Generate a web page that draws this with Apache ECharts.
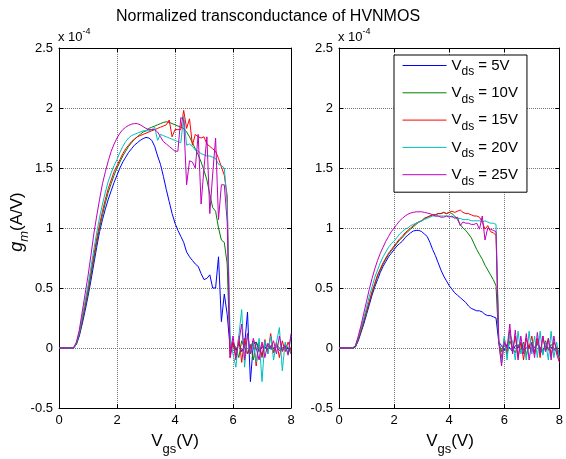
<!DOCTYPE html>
<html>
<head>
<meta charset="utf-8">
<title>Normalized transconductance of HVNMOS</title>
<script src="https://cdn.jsdelivr.net/npm/echarts@6/dist/echarts.min.js"></script>
<style>
  html, body { margin: 0; padding: 0; background: #fff; }
  #chart { width: 566px; height: 459px; }
</style>
</head>
<body>
<div id="chart"></div>
<script>
// gate voltage (V)
var vgs = [0, 0.1, 0.2, 0.3, 0.4, 0.5, 0.6, 0.7, 0.8, 0.9,
    1, 1.1, 1.2, 1.3, 1.4, 1.5, 1.6, 1.7, 1.8, 1.9,
    2, 2.1, 2.2, 2.3, 2.4, 2.5, 2.6, 2.7, 2.8, 2.9,
    3, 3.1, 3.2, 3.3, 3.4, 3.5, 3.6, 3.7, 3.8, 3.9,
    4, 4.1, 4.2, 4.3, 4.4, 4.5, 4.6, 4.7, 4.8, 4.9,
    5, 5.1, 5.2, 5.3, 5.4, 5.5, 5.6, 5.7, 5.8, 5.9,
    6, 6.1, 6.2, 6.3, 6.4, 6.5, 6.6, 6.7, 6.8, 6.9,
    7, 7.1, 7.2, 7.3, 7.4, 7.5, 7.6, 7.7, 7.8, 7.9,
    8];

var vdsNames = ['V_ds = 5V', 'V_ds = 10V', 'V_ds = 15V', 'V_ds = 20V', 'V_ds = 25V'];
var colors = ['#0000ff', '#008000', '#ff0000', '#00bfbf', '#bf00bf'];
var xTicks = [0, 2, 4, 6, 8];
var yTicks = [-0.5, 0, 0.5, 1, 1.5, 2, 2.5];

// gm in units of 1e-4 A/V, left subplot
var gmL5 = [0, 0, 0, 0, 0, 0, 0.03, 0.1, 0.2, 0.31,
    0.43, 0.56, 0.7, 0.84, 0.97, 1.07, 1.16, 1.24, 1.31, 1.38,
    1.44, 1.5, 1.55, 1.59, 1.63, 1.66, 1.69, 1.71, 1.73, 1.745,
    1.755, 1.75, 1.73, 1.68, 1.6, 1.53, 1.43, 1.32, 1.22, 1.12,
    1.04, 0.98, 0.93, 0.88, 0.8, 0.76, 0.73, 0.7, 0.68, 0.62,
    0.57, 0.58, 0.61, 0.5, 0.5, 0.76, 0.22, 0.45, 0.28, 0.0,
    0.02, -0.02, 0.04, -0.03, 0.02, 0.3, -0.28, 0.03, 0.05, -0.03,
    0.01, 0, 0.02, -0.01, 0, 0.01, -0.02, 0, 0.01, 0,
    -0.03];
var gmL10 = [0, 0, 0, 0, 0, 0, 0.03, 0.11, 0.22, 0.34,
    0.46, 0.6, 0.74, 0.88, 1.0, 1.11, 1.21, 1.3, 1.37, 1.44,
    1.5, 1.55, 1.6, 1.64, 1.68, 1.71, 1.74, 1.76, 1.78, 1.8,
    1.81, 1.83, 1.84, 1.85, 1.86, 1.87, 1.88, 1.885, 1.88, 1.87,
    1.86, 1.85, 1.84, 1.83, 1.8, 1.76, 1.71, 1.66, 1.61, 1.55,
    1.48, 1.4, 1.28, 1.17, 1.14, 1.0, 0.9, 0.88, 0.7, -0.05,
    0.05, 0.0, -0.08, 0.06, 0.0, -0.05, 0.03, -0.1, 0.05, 0.0,
    -0.06, 0.04, -0.02, 0.02, -0.04, 0.03, 0.0, -0.02, 0.03, 0.0,
    -0.05];
var gmL15 = [0, 0, 0, 0, 0, 0, 0.04, 0.12, 0.24, 0.36,
    0.49, 0.63, 0.77, 0.91, 1.03, 1.14, 1.24, 1.33, 1.4, 1.47,
    1.52, 1.57, 1.62, 1.66, 1.69, 1.72, 1.74, 1.76, 1.77, 1.78,
    1.79, 1.8, 1.81, 1.82, 1.83, 1.84, 1.85, 1.86, 1.9, 1.76,
    1.82, 1.82, 1.82, 1.98, 1.83, 1.91, 1.69, 1.78, 1.76, 1.75,
    1.76, 1.7, 1.68, 1.66, 1.64, 1.58, 1.51, 1.44, 1.27, -0.08,
    0.05, -0.1, 0.1, -0.12, 0.08, -0.05, 0.0, 0.06, -0.15, 0.05,
    -0.08, 0.07, -0.05, 0.12, -0.04, 0.05, -0.08, 0.06, -0.03, 0.05,
    -0.02];
var gmL20 = [0, 0, 0, 0, 0, 0, 0.04, 0.13, 0.26, 0.39,
    0.52, 0.67, 0.82, 0.96, 1.09, 1.2, 1.3, 1.39, 1.46, 1.52,
    1.57, 1.63, 1.68, 1.72, 1.75, 1.77, 1.78, 1.79, 1.8, 1.81,
    1.81, 1.81, 1.82, 1.84, 1.73, 1.78, 1.77, 1.76, 1.75, 1.74,
    1.73, 1.72, 1.71, 1.93, 1.69, 1.7, 1.68, 1.65, 1.64, 1.62,
    1.61, 1.6, 1.6, 1.59, 1.58, 1.53, 1.52, 1.5, 1.2, 0.1,
    -0.05, -0.16, 0.1, 0.32, -0.16, 0.12, -0.05, 0.05, -0.12, 0.08,
    -0.28, 0.06, -0.05, 0.1, -0.1, 0.05, 0.17, -0.19, 0.05, -0.05,
    0.1];
var gmL25 = [0, 0, 0, 0, 0, 0, 0.05, 0.15, 0.3, 0.45,
    0.6, 0.77, 0.95, 1.1, 1.24, 1.37, 1.47, 1.56, 1.64, 1.7,
    1.75, 1.79, 1.82, 1.84, 1.855, 1.865, 1.87, 1.87, 1.86, 1.845,
    1.83, 1.82, 1.82, 1.82, 1.8, 1.76, 1.72, 1.7, 1.68, 1.66,
    1.64, 1.64, 1.92, 1.9, 1.36, 1.56, 1.55, 1.5, 1.78, 1.2,
    1.5, 1.76, 1.12, 1.45, 1.75, 1.07, 1.36, 1.36, 1.05, -0.08,
    0.1, -0.08, 0.05, 0.2, -0.1, 0.12, -0.05, 0.08, 0.0, -0.1,
    0.05, -0.08, 0.04, 0.0, 0.06, -0.05, 0.1, -0.03, 0.02, -0.06,
    0.12];

// gm in units of 1e-4 A/V, right subplot
var gmR5 = [0, 0, 0, 0, 0, 0, 0.01, 0.06, 0.13, 0.2,
    0.28, 0.36, 0.44, 0.51, 0.57, 0.63, 0.68, 0.72, 0.76, 0.79,
    0.82, 0.85, 0.87, 0.89, 0.92, 0.94, 0.96, 0.975, 0.98, 0.98,
    0.97, 0.95, 0.93, 0.88, 0.82, 0.77, 0.71, 0.65, 0.6, 0.56,
    0.52, 0.49, 0.46, 0.44, 0.42, 0.4, 0.38, 0.35, 0.33, 0.32,
    0.31, 0.31, 0.3, 0.28, 0.27, 0.27, 0.26, 0.25, 0.05, 0.02,
    -0.02, 0.03, 0.0, -0.03, 0.02, 0.0, 0.04, -0.02, 0.0, 0.02,
    -0.03, 0.01, 0.03, 0.0, -0.02, 0.02, 0.0, 0.01, -0.02, 0.0,
    -0.04];
var gmR10 = [0, 0, 0, 0, 0, 0, 0.01, 0.07, 0.14, 0.22,
    0.3, 0.38, 0.46, 0.53, 0.6, 0.65, 0.7, 0.74, 0.78, 0.81,
    0.84, 0.87, 0.9, 0.92, 0.95, 0.97, 0.99, 1.01, 1.03, 1.05,
    1.06, 1.08, 1.09, 1.1, 1.11, 1.11, 1.12, 1.12, 1.13, 1.12,
    1.13, 1.12, 1.1, 1.07, 1.03, 1.0, 0.98, 0.95, 0.92, 0.87,
    0.82, 0.78, 0.74, 0.69, 0.65, 0.61, 0.57, 0.52, 0.05, -0.03,
    0.05, -0.05, 0.06, 0.0, -0.04, 0.03, -0.02, 0.05, -0.06, 0.02,
    0.04, -0.03, 0.05, 0.0, -0.05, 0.06, -0.02, 0.03, 0.0, -0.03,
    -0.08];
var gmR15 = [0, 0, 0, 0, 0, 0, 0.02, 0.08, 0.15, 0.23,
    0.31, 0.39, 0.47, 0.54, 0.61, 0.66, 0.71, 0.75, 0.79, 0.82,
    0.85, 0.88, 0.91, 0.93, 0.96, 0.98, 1.0, 1.02, 1.04, 1.05,
    1.06, 1.08, 1.09, 1.1, 1.11, 1.11, 1.12, 1.12, 1.13, 1.12,
    1.13, 1.14, 1.13, 1.14, 1.15, 1.13, 1.12, 1.12, 1.11, 1.1,
    1.1, 1.09, 1.05, 0.99, 1.02, 0.97, 0.96, 0.94, 0.05, -0.08,
    0.08, -0.05, 0.15, -0.03, 0.1, -0.08, 0.05, -0.1, 0.08, 0.0,
    0.1, -0.05, 0.08, -0.08, 0.1, -0.02, 0.08, -0.06, 0.05, 0.0,
    -0.1];
var gmR20 = [0, 0, 0, 0, 0, 0, 0.02, 0.09, 0.17, 0.25,
    0.34, 0.43, 0.51, 0.59, 0.65, 0.71, 0.76, 0.8, 0.84, 0.87,
    0.89, 0.92, 0.95, 0.97, 0.99, 1.0, 1.02, 1.03, 1.04, 1.05,
    1.06, 1.07, 1.08, 1.09, 1.1, 1.1, 1.1, 1.1, 1.1, 1.1,
    1.1, 1.09, 1.09, 1.08, 1.08, 1.07, 1.07, 1.07, 1.06, 1.06,
    1.06, 1.06, 1.05, 1.06, 1.05, 1.04, 1.04, 1.03, 0.05, -0.13,
    0.1, -0.1, 0.12, 0.05, -0.1, 0.14, -0.05, 0.02, -0.1, 0.14,
    -0.05, 0.1, -0.08, 0.14, -0.06, 0.05, -0.1, 0.14, -0.08, 0.05,
    -0.08];
var gmR25 = [0, 0, 0, 0, 0, 0, 0.02, 0.1, 0.19, 0.29,
    0.39, 0.49, 0.58, 0.66, 0.73, 0.79, 0.84, 0.89, 0.93, 0.97,
    1.0, 1.03, 1.06, 1.08, 1.1, 1.115, 1.125, 1.13, 1.135, 1.135,
    1.135, 1.13, 1.125, 1.12, 1.11, 1.1, 1.1, 1.09, 1.09, 1.1,
    1.09, 1.1, 1.08, 1.09, 1.02, 1.05, 1.04, 1.04, 1.03, 1.03,
    1.04, 0.99, 1.1, 0.9, 1.0, 0.99, 0.98, 0.97, 0.05, -0.15,
    0.05, 0.0, 0.2, -0.05, 0.15, -0.1, 0.1, -0.05, 0.12, -0.1,
    0.05, -0.08, 0.13, -0.05, 0.1, -0.03, 0.08, -0.1, 0.1, -0.05,
    -0.12];

var leftSets = [gmL5, gmL10, gmL15, gmL20, gmL25];
var rightSets = [gmR5, gmR10, gmR15, gmR20, gmR25];

var FONT = "'Liberation Sans', Arial, Helvetica, sans-serif";

function pairs(ys) {
    var out = [];
    for (var i = 0; i < vgs.length; i++) {
        out.push([vgs[i], ys[i]]);
    }
    return out;
}

// small deep merge for the axis option objects
function merge(target) {
    for (var a = 1; a < arguments.length; a++) {
        var src = arguments[a];
        for (var k in src) {
            var v = src[k];
            if (v && typeof v === 'object' && !Array.isArray(v)) {
                target[k] = merge(target[k] && typeof target[k] === 'object' ? target[k] : {}, v);
            } else {
                target[k] = v;
            }
        }
    }
    return target;
}

var gridLine = {show: true, lineStyle: {color: '#777', type: 'dotted', width: 1}};

function xAxes(grid) {
    var base = {
        gridIndex: grid, type: 'value',
        min: xTicks[0], max: xTicks[xTicks.length - 1], interval: xTicks[1] - xTicks[0],
        axisLine: {show: true, onZero: false, lineStyle: {color: '#000', width: 1}},
        axisTick: {show: true, inside: true, length: 4, lineStyle: {color: '#000'}}
    };
    return [
        merge({}, base, {
            position: 'bottom',
            axisLabel: {color: '#000', fontSize: 13, fontFamily: FONT, margin: 6},
            splitLine: gridLine
        }),
        merge({}, base, {position: 'top', axisLabel: {show: false}, splitLine: {show: false}})
    ];
}

function yAxes(grid) {
    var base = {
        gridIndex: grid, type: 'value',
        min: yTicks[0], max: yTicks[yTicks.length - 1], interval: yTicks[1] - yTicks[0],
        axisLine: {show: true, onZero: false, lineStyle: {color: '#000', width: 1}},
        axisTick: {show: true, inside: true, length: 4, lineStyle: {color: '#000'}}
    };
    return [
        merge({}, base, {
            position: 'left',
            axisLabel: {color: '#000', fontSize: 13, fontFamily: FONT, margin: 6},
            splitLine: gridLine
        }),
        merge({}, base, {position: 'right', axisLabel: {show: false}, splitLine: {show: false}})
    ];
}

var series = [];
for (var s = 0; s < vdsNames.length; s++) {
    series.push({
        name: vdsNames[s], type: 'line', xAxisIndex: 0, yAxisIndex: 0,
        data: pairs(leftSets[s]), symbol: 'none', color: colors[s],
        lineStyle: {width: 1, color: colors[s]}
    });
}
for (var s = 0; s < vdsNames.length; s++) {
    series.push({
        name: vdsNames[s], type: 'line', xAxisIndex: 2, yAxisIndex: 2,
        data: pairs(rightSets[s]), symbol: 'none', color: colors[s],
        lineStyle: {width: 1, color: colors[s]}
    });
}

var subRich = function (main, sub, lh) {
    return {
        v: {fontSize: main, lineHeight: lh, verticalAlign: 'middle', fontFamily: FONT, color: '#000'},
        s: {fontSize: sub, lineHeight: sub, verticalAlign: 'bottom', fontFamily: FONT, color: '#000'}
    };
};

var myChart = echarts.init(document.getElementById('chart'), null, {renderer: 'canvas'});
myChart.setOption({
    animation: false,
    backgroundColor: '#fff',
    grid: [
        {left: 59, top: 48, width: 232, height: 360},
        {left: 339, top: 48, width: 221, height: 360}
    ],
    xAxis: xAxes(0).concat(xAxes(1)),
    yAxis: yAxes(0).concat(yAxes(1)),
    legend: {
        data: vdsNames,
        orient: 'vertical',
        left: 394, top: 55,
        padding: [3, 9, 5, 8],
        itemGap: 7.3,
        itemWidth: 44, itemHeight: 13,
        borderColor: '#000', borderWidth: 1,
        backgroundColor: '#fff',
        selectedMode: false,
        itemStyle: {opacity: 0},
        lineStyle: {color: 'inherit', width: 1},
        formatter: function (name) {
            return '{v|V}{s|ds}{v| = ' + name.split('= ')[1] + '}';
        },
        textStyle: {color: '#000', rich: subRich(15, 12, 25)}
    },
    graphic: [
        {
            type: 'text', x: 268, y: 17,
            style: {text: 'Normalized transconductance of HVNMOS', font: '16px ' + FONT, fill: '#000',
                align: 'center', verticalAlign: 'middle'}
        },
        {
            type: 'text', x: 58, y: 37,
            style: {text: '{a|x 10}{b|-4}', fill: '#000', align: 'left', verticalAlign: 'middle',
                rich: {
                    a: {fontSize: 13, lineHeight: 20, verticalAlign: 'middle', fontFamily: FONT},
                    b: {fontSize: 9, lineHeight: 9, verticalAlign: 'top', fontFamily: FONT}
                }}
        },
        {
            type: 'text', x: 338, y: 37,
            style: {text: '{a|x 10}{b|-4}', fill: '#000', align: 'left', verticalAlign: 'middle',
                rich: {
                    a: {fontSize: 13, lineHeight: 20, verticalAlign: 'middle', fontFamily: FONT},
                    b: {fontSize: 9, lineHeight: 9, verticalAlign: 'top', fontFamily: FONT}
                }}
        },
        {
            type: 'text', x: 175, y: 441,
            style: {text: '{v|V}{s|gs}{v|(V)}', fill: '#000', align: 'center', verticalAlign: 'middle',
                rich: subRich(17, 13, 30)}
        },
        {
            type: 'text', x: 450, y: 441,
            style: {text: '{v|V}{s|gs}{v|(V)}', fill: '#000', align: 'center', verticalAlign: 'middle',
                rich: subRich(17, 13, 30)}
        },
        {
            type: 'text', x: 17, y: 222, rotation: Math.PI / 2,
            style: {text: '{g|g}{m|m}{v|(A/V)}', fill: '#000', align: 'center', verticalAlign: 'middle',
                rich: {
                    g: {fontSize: 18, fontStyle: 'italic', lineHeight: 28, verticalAlign: 'middle', fontFamily: FONT},
                    m: {fontSize: 13, fontStyle: 'italic', lineHeight: 13, verticalAlign: 'bottom', fontFamily: FONT},
                    v: {fontSize: 17, lineHeight: 28, verticalAlign: 'middle', fontFamily: FONT}
                }}
        }
    ],
    series: series
});

window.onresize = function () {
    myChart.resize();
};
</script>
</body>
</html>
